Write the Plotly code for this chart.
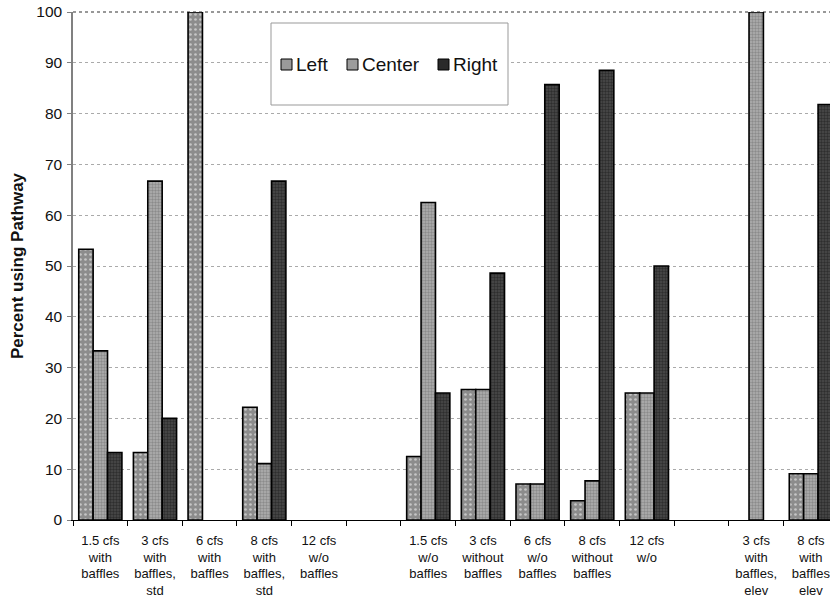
import plotly.graph_objects as go

categories = [
    "1.5 cfs<br>with<br>baffles",
    "3 cfs<br>with<br>baffles,<br>std",
    "6 cfs<br>with<br>baffles",
    "8 cfs<br>with<br>baffles,<br>std",
    "12 cfs<br>w/o<br>baffles",
    " ",
    "1.5 cfs<br>w/o<br>baffles",
    "3 cfs<br>without<br>baffles",
    "6 cfs<br>w/o<br>baffles",
    "8 cfs<br>without<br>baffles",
    "12 cfs<br>w/o",
    "  ",
    "3 cfs<br>with<br>baffles,<br>elev",
    "8 cfs<br>with<br>baffles<br>elev",
]

left_vals = [53.3, 13.3, 100, 22.2, 0, None, 12.5, 25.7, 7.1, 3.8, 25, None, 0, 9.1]
center_vals = [33.3, 66.7, 0, 11.1, 0, None, 62.5, 25.7, 7.1, 7.7, 25, None, 100, 9.1]
right_vals = [13.3, 20, 0, 66.7, 0, None, 25, 48.6, 85.7, 88.5, 50, None, 0, 81.8]

series_names = ["Left", "Center", "Right"]

styles = {
    "Left": dict(bg="#8c8c8c", fg="white", size=5, sol=0.22, swatch="#9a9a9a"),
    "Center": dict(bg="#b0b0b0", fg="#666666", size=3, sol=0.5, swatch="#9c9c9c"),
    "Right": dict(bg="#4a4a4a", fg="#111111", size=3, sol=0.5, swatch="#2a2a2a"),
}


def line_widths(vals):
    return [0 if (v is None or v == 0) else 1.6 for v in vals]


fig = go.Figure()
for name, vals in zip(series_names, [left_vals, center_vals, right_vals]):
    s = styles[name]
    fig.add_trace(go.Bar(
        name=name, x=categories, y=vals,
        marker=dict(color=s["swatch"],
                    line=dict(color="black", width=line_widths(vals)),
                    pattern=dict(shape=".", fgcolor=s["fg"], bgcolor=s["bg"],
                                 size=s["size"], solidity=s["sol"])),
    ))

W, H = 830, 601
# plot area in window pixels: x 73..830, y 12..520
PX0, PX1, PY0, PY1 = 73, 830, 12, 520


def px(x):
    return (x - PX0) / (PX1 - PX0)


def py(y):
    return (PY1 - y) / (PY1 - PY0)


shapes = [
    # top border of the plot area (dotted, like the reference)
    dict(type="line", xref="paper", yref="paper", x0=0, x1=1, y0=1, y1=1,
         line=dict(color="#777777", width=1.5, dash="dot"), layer="below"),
    dict(type="rect", xref="paper", yref="paper",
         x0=px(271), x1=px(508), y0=py(105), y1=py(23),
         line=dict(color="#999999", width=1), fillcolor="white", layer="above"),
]
annotations = []
legend_pos = {"Left": 281, "Center": 347, "Right": 438}
for name in series_names:
    x0 = legend_pos[name]
    shapes.append(dict(type="rect", xref="paper", yref="paper",
                       x0=px(x0), x1=px(x0 + 11), y0=py(70), y1=py(59),
                       line=dict(color="black", width=1), fillcolor=styles[name]["swatch"],
                       layer="above"))
    annotations.append(dict(xref="paper", yref="paper", x=px(x0 + 13), y=py(64.5),
                            xanchor="left", yanchor="middle", showarrow=False,
                            text=name, font=dict(size=19, color="#111111")))

fig.update_layout(
    width=W, height=H,
    margin=dict(l=PX0, r=W - PX1, t=PY0, b=H - PY1),
    plot_bgcolor="white", paper_bgcolor="white",
    barmode="group", bargap=0.21, bargroupgap=0,
    font=dict(family="Arial, Liberation Sans, sans-serif", color="#111111"),
    showlegend=False,
    shapes=shapes,
    annotations=annotations,
)

fig.update_xaxes(
    type="category", range=[-0.5, 13.35], automargin=False,
    showline=True, linecolor="black", linewidth=1,
    ticks="outside", tickson="boundaries", ticklen=5, tickcolor="black",
    tickfont=dict(size=13), tickangle=0, showgrid=False, ticklabelstandoff=8,
    ticklabeloverflow="allow",
)
fig.update_yaxes(
    range=[0, 100], dtick=10, automargin=False,
    showline=True, linecolor="#808080", linewidth=1.5,
    ticks="outside", ticklen=4, tickcolor="#808080",
    tickfont=dict(size=15.5), ticklabelstandoff=2, ticklabeloverflow="allow",
    showgrid=True, gridcolor="#aaaaaa", griddash="dot", gridwidth=1,
    zeroline=False,
    title=dict(text="<b>Percent using Pathway</b>", font=dict(size=17), standoff=8),
)

fig.write_html("out.html", config={"displayModeBar": False},
               post_script="document.body.style.margin='0';")
